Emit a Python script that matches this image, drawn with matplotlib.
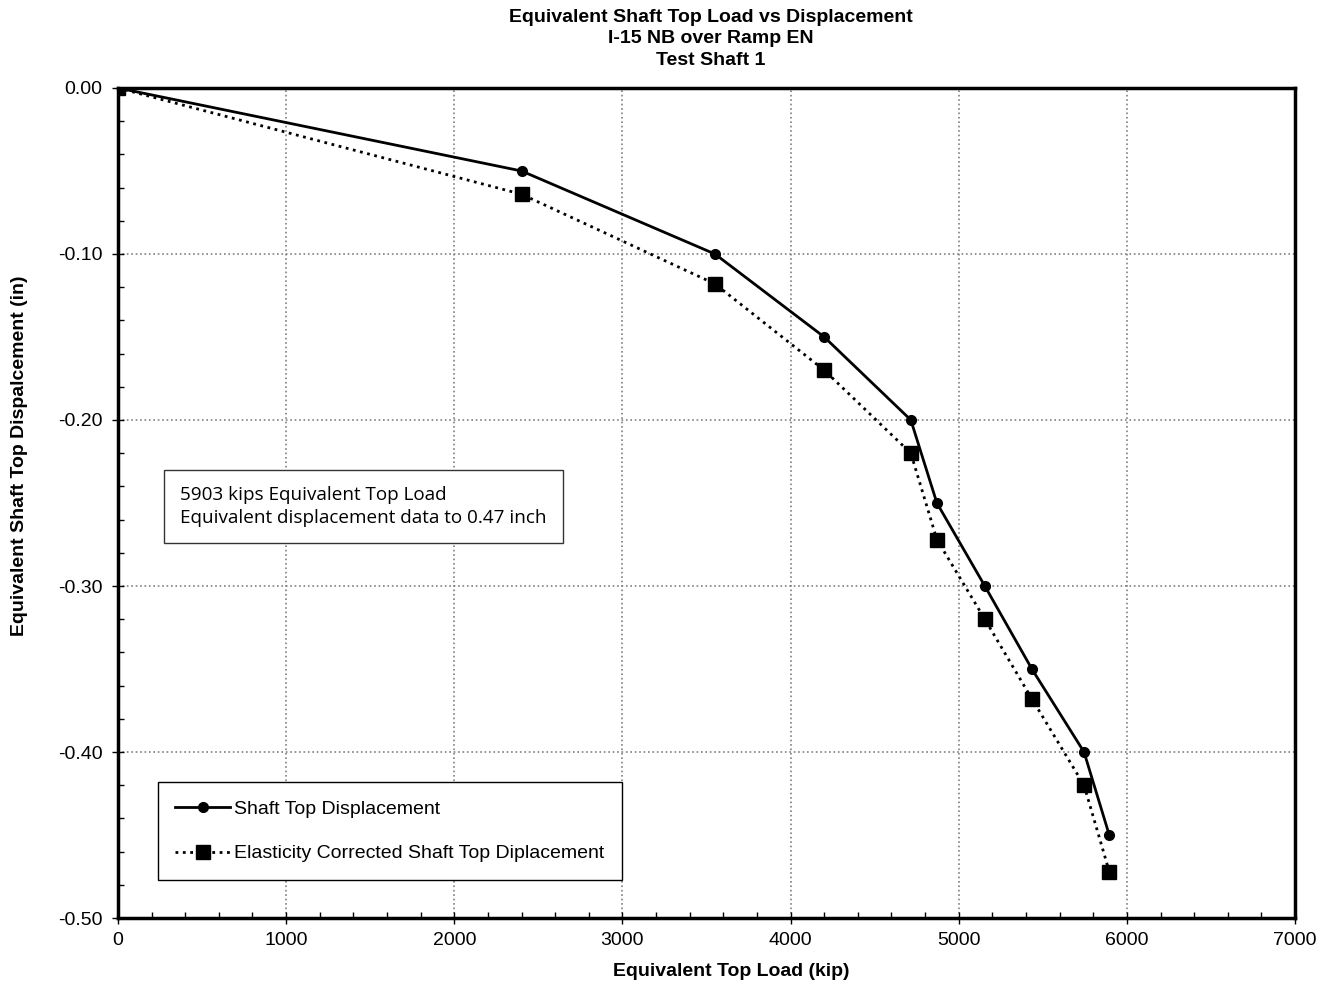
import matplotlib.pyplot as plt
from matplotlib.ticker import MultipleLocator, FormatStrFormatter

plt.rcParams['font.family'] = ['Liberation Sans', 'DejaVu Sans']

# Shaft top load (kip) vs displacement (in)
load = [0, 2400, 3550, 4200, 4715, 4870, 5155, 5435, 5745, 5895]
disp = [0.00, -0.05, -0.10, -0.15, -0.20, -0.25, -0.30, -0.35, -0.40, -0.45]
disp_corr = [0.00, -0.064, -0.118, -0.170, -0.220, -0.272, -0.320, -0.368, -0.420, -0.472]

fig = plt.figure(figsize=(13.18, 9.83), dpi=100)
ax = fig.add_axes([0.0895, 0.0661, 0.8931, 0.8444])

ax.plot(load, disp, color='black', lw=2, marker='o', ms=7, label='Shaft Top Displacement', zorder=3)
ax.plot(load, disp_corr, color='black', lw=2, ls=':', marker='s', ms=10,
        label='Elasticity Corrected Shaft Top Diplacement', zorder=3)

ax.set_xlim(0, 7000)
ax.set_ylim(-0.5, 0.0)
ax.xaxis.set_major_locator(MultipleLocator(1000))
ax.xaxis.set_minor_locator(MultipleLocator(200))
ax.yaxis.set_major_locator(MultipleLocator(0.1))
ax.yaxis.set_minor_locator(MultipleLocator(0.02))
ax.yaxis.set_major_formatter(FormatStrFormatter('%.2f'))
ax.tick_params(which='major', direction='inout', length=8, width=1, labelsize=14)
ax.tick_params(axis='y', which='major', pad=7)
ax.tick_params(axis='x', which='major', pad=6)
ax.tick_params(which='minor', direction='in', length=4, width=1)
ax.grid(True, which='major', color='#808080', ls=':', lw=1.2)
for s in ax.spines.values():
    s.set_linewidth(2.5)

ax.set_xlabel('Equivalent Top Load (kip)', fontsize=14, fontweight='bold')
ax.xaxis.set_label_coords(0.521, -0.054)
ax.set_ylabel('Equivalent Shaft Top Dispalcement (in)', fontsize=14, fontweight='bold')
ax.yaxis.set_label_coords(-0.0765, 0.557)
fig.text(0.539, 0.991, 'Equivalent Shaft Top Load vs Displacement\nI-15 NB over Ramp EN\nTest Shaft 1',
         fontsize=14, fontweight='bold', ha='center', va='top', linespacing=1.35)

ax.text(0.0527, 0.496, '5903 kips Equivalent Top Load\nEquivalent displacement data to 0.47 inch',
        transform=ax.transAxes, fontsize=13.6, family=['Open Sans', 'DejaVu Sans'], va='center',
        linespacing=1.35,
        bbox=dict(boxstyle='square,pad=0.85', fc='white', ec='#333333', lw=1))

leg = ax.legend(loc='lower left', bbox_to_anchor=(0.034, 0.046), fontsize=14, fancybox=False,
                edgecolor='black', framealpha=1, borderpad=0.9, labelspacing=1.4,
                handlelength=2.8, handletextpad=0.2, borderaxespad=0)
leg.get_frame().set_linewidth(1)

fig.savefig('out.png', dpi=100)
